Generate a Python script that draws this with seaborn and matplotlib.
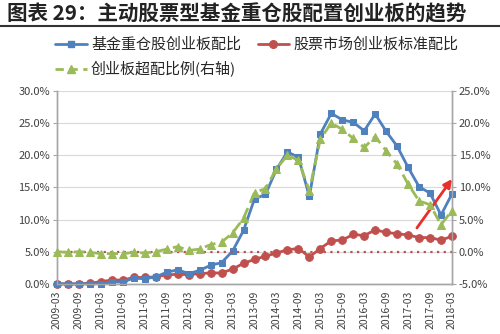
import matplotlib
matplotlib.use("Agg")
import matplotlib.pyplot as plt
from matplotlib.lines import Line2D
import seaborn as sns
import pandas as pd

# Quarterly observations, 2009Q1 - 2018Q1
quarters = [
    "2009-03", "2009-06", "2009-09", "2009-12",
    "2010-03", "2010-06", "2010-09", "2010-12",
    "2011-03", "2011-06", "2011-09", "2011-12",
    "2012-03", "2012-06", "2012-09", "2012-12",
    "2013-03", "2013-06", "2013-09", "2013-12",
    "2014-03", "2014-06", "2014-09", "2014-12",
    "2015-03", "2015-06", "2015-09", "2015-12",
    "2016-03", "2016-06", "2016-09", "2016-12",
    "2017-03", "2017-06", "2017-09", "2017-12",
    "2018-03",
]

# 基金重仓股创业板配比 (%), left axis
fund_share = [0.0, 0.0, 0.0, 0.0, 0.05, 0.3, 0.3, 0.9, 0.8, 1.1,
              1.8, 2.2, 1.6, 2.1, 2.9, 3.3, 5.1, 8.3, 13.2, 13.9,
              17.8, 20.5, 19.7, 13.6, 23.3, 26.5, 25.5, 25.1, 23.8, 26.4,
              23.7, 21.4, 18.1, 15.1, 14.1, 10.7, 14.0]

# 股票市场创业板标准配比 (%), left axis
market_share = [0.0, 0.0, 0.0, 0.1, 0.35, 0.6, 0.6, 1.0, 1.0, 1.1,
                1.4, 1.5, 1.45, 1.6, 1.7, 1.7, 2.3, 3.2, 3.8, 4.3,
                4.8, 5.3, 5.5, 4.2, 5.5, 6.7, 6.8, 7.7, 7.5, 8.4,
                8.0, 7.8, 7.6, 7.2, 7.2, 6.8, 7.4]

# 创业板超配比例 (%), right axis
overweight = [0.0, -0.1, 0.0, -0.1, -0.3, -0.3, -0.3, -0.1, -0.2, 0.0,
              0.4, 0.8, 0.2, 0.4, 1.1, 1.5, 2.9, 5.2, 9.2, 9.8,
              12.9, 15.0, 14.2, 9.5, 17.5, 20.0, 19.0, 17.6, 16.2, 17.9,
              15.7, 13.6, 10.5, 7.9, 7.3, 4.2, 6.4]

left_ticks = [0, 5, 10, 15, 20, 25, 30]
right_ticks = [-5, 0, 5, 10, 15, 20, 25]

title = "图表 29：主动股票型基金重仓股配置创业板的趋势"
label_fund = "基金重仓股创业板配比"
label_market = "股票市场创业板标准配比"
label_over = "创业板超配比例(右轴)"

BLUE = "#4F81BD"
RED = "#C0504D"
GREEN = "#9BBB59"
GRID = "#D9D9D9"
SPINE = "#A6A6A6"

sns.set_theme(style="white")
plt.rcParams["font.family"] = ["Noto Sans CJK SC", "DejaVu Sans"]
plt.rcParams["axes.unicode_minus"] = False

df = pd.DataFrame({
    "pos": range(len(quarters)),
    "quarter": quarters,
    "fund": fund_share,
    "market": market_share,
    "over": overweight,
})

fig = plt.figure(figsize=(5.0, 3.34), dpi=100)
ax = fig.add_axes([0.114, 0.150, 0.790, 0.578])
ax2 = ax.twinx()

# grid and baseline
ax.set_axisbelow(True)
ax.yaxis.grid(True, color=GRID, lw=0.8)
ax.xaxis.grid(False)
ax2.grid(False)
ax2.axhline(0, color=RED, ls=(0, (1, 2)), lw=1.6, zorder=1)

sns.lineplot(data=df, x="pos", y="market", ax=ax, color=RED, lw=2,
             marker="o", markersize=5.5, markeredgecolor=RED,
             clip_on=False, legend=False, zorder=3)
sns.lineplot(data=df, x="pos", y="fund", ax=ax, color=BLUE, lw=2,
             marker="s", markersize=5, markeredgecolor=BLUE,
             clip_on=False, legend=False, zorder=4)
sns.lineplot(data=df, x="pos", y="over", ax=ax2, color=GREEN, lw=2,
             ls=(0, (4, 2)), marker="^", markersize=5.5,
             markeredgecolor=GREEN, clip_on=False, legend=False, zorder=3)

n = len(quarters)
ax.set_xlim(0, n - 1)
ax.set_ylim(left_ticks[0], left_ticks[-1])
ax2.set_ylim(right_ticks[0], right_ticks[-1])

ax.set_xticks(range(0, n, 2))
ax.set_xticklabels(quarters[::2], rotation=90, fontsize=7.5, color="#404040")
ax.set_yticks(left_ticks)
ax.set_yticklabels([f"{v:.1f}%" for v in left_ticks], fontsize=8, color="#404040")
ax2.set_yticks(right_ticks)
ax2.set_yticklabels([f"{v:.1f}%" for v in right_ticks], fontsize=8, color="#404040")
ax.set_xlabel("")
ax.set_ylabel("")
ax2.set_ylabel("")

for a in (ax, ax2):
    a.spines["top"].set_visible(False)
    for side in ("left", "right", "bottom"):
        a.spines[side].set_color(SPINE)
        a.spines[side].set_linewidth(1.0)
ax.tick_params(axis="x", length=3, width=0.8, color=SPINE, pad=2, direction="out")
ax.tick_params(axis="y", length=3, width=0.8, color=SPINE, pad=2, direction="out")
ax2.tick_params(axis="y", length=3, width=0.8, color=SPINE, pad=2, direction="out")

# highlight the latest rebound
ax.annotate("", xy=(36.0, 16.3), xytext=(32.8, 8.7),
            arrowprops=dict(arrowstyle="-|>", color="#E8302A", lw=2,
                            mutation_scale=12, shrinkA=0, shrinkB=0),
            annotation_clip=False, zorder=6)

# legend (row-major: blue, red / green)
h_fund = Line2D([], [], color=BLUE, lw=2, marker="s", markersize=5)
h_market = Line2D([], [], color=RED, lw=2, marker="o", markersize=5.5)
h_over = Line2D([], [], color=GREEN, lw=2, ls=(0, (3, 2)), marker="^", markersize=5.5)
fig.legend([h_fund, h_over, h_market], [label_fund, label_over, label_market],
           ncol=2, loc="upper left", bbox_to_anchor=(0.110, 0.888),
           frameon=False, fontsize=10.8, handlelength=2.1, handletextpad=0.3,
           columnspacing=1.1, labelspacing=0.62, borderpad=0, borderaxespad=0)

# title and rule
fig.text(0.014, 0.958, title, fontsize=14.8, fontweight="bold",
         va="center", ha="left", color="#222222")
fig.add_artist(Line2D([0, 1], [0.922, 0.922], color="#333333", lw=1.5,
                      transform=fig.transFigure))

fig.savefig("out.png", dpi=100, facecolor="white")
